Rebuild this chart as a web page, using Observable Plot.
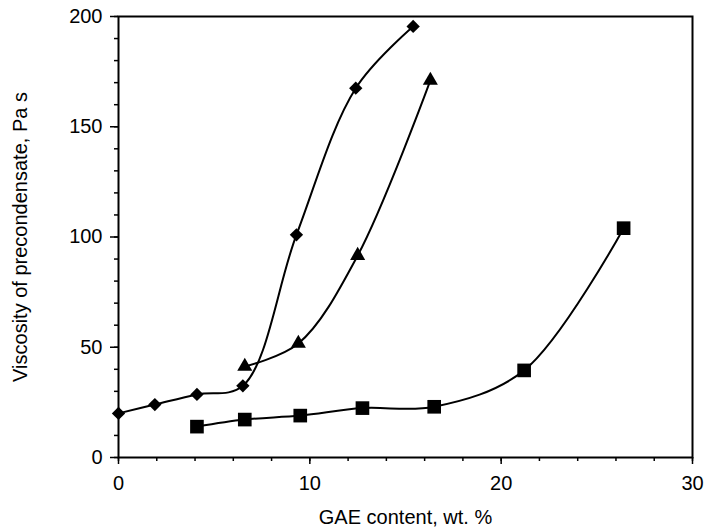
<!DOCTYPE html>
<html><head><meta charset="utf-8">
<script src="https://cdn.jsdelivr.net/npm/d3@7"></script>
<script src="https://cdn.jsdelivr.net/npm/@observablehq/plot@0.6"></script>
<style>body{margin:0;background:#fff;} svg{display:block;}</style>
</head><body><div id="chart"></div>
<script>
const diamondX = [0, 1.9, 4.1, 6.5, 9.3, 12.4, 15.4];
const diamondY = [20, 24, 28.6, 32.5, 101, 167.5, 195.5];
const triangleX = [6.6, 9.4, 12.5, 16.3];
const triangleY = [41.3, 51.7, 91.6, 171];
const squareX = [4.1, 6.6, 9.5, 12.75, 16.5, 21.2, 26.4];
const squareY = [14, 17.2, 19, 22.4, 23, 39.5, 104];
const xMajor = [0, 10, 20, 30];
const yMajor = [0, 50, 100, 150, 200];

const mk = (xs, ys) => xs.map((x, i) => ({x, y: ys[i]}));
const dia = mk(diamondX, diamondY), tri = mk(triangleX, triangleY), sq = mk(squareX, squareY);

const font = "'Liberation Sans', Arial, sans-serif";
const chart = Plot.plot({
  width: 707, height: 531,
  marginLeft: 118, marginRight: 15, marginTop: 16, marginBottom: 74,
  style: {fontFamily: font, fontSize: "20px", color: "black", background: "white"},
  x: {domain: [0, 30]},
  y: {domain: [0, 200]},
  marks: [
    Plot.frame({stroke: "black", strokeWidth: 2}),
    Plot.axisX({ticks: d3.range(0, 31, 2), tickFormat: () => "", tickSize: 4, strokeWidth: 1.5, label: null}),
    Plot.axisX({ticks: xMajor, tickSize: 7, strokeWidth: 1.5, tickPadding: 11, fontSize: 20, label: "GAE content, wt. %", labelAnchor: "center", labelArrow: "none", labelOffset: 66}),
    Plot.axisY({ticks: d3.range(0, 201, 10), tickFormat: () => "", tickSize: 4, strokeWidth: 1.5, label: null}),
    Plot.axisY({ticks: yMajor, tickSize: 8, strokeWidth: 1.5, tickPadding: 8, fontSize: 20, label: "Viscosity of precondensate, Pa s", labelAnchor: "center", labelArrow: "none", labelOffset: 106}),
    Plot.line(dia, {x: "x", y: "y", curve: "catmull-rom", stroke: "black", strokeWidth: 2}),
    Plot.line(tri, {x: "x", y: "y", curve: "catmull-rom", stroke: "black", strokeWidth: 2}),
    Plot.line(sq, {x: "x", y: "y", curve: "catmull-rom", stroke: "black", strokeWidth: 2}),
    Plot.dot(dia, {x: "x", y: "y", symbol: "diamond2", r: 6, fill: "black", stroke: "none"}),
    Plot.dot(tri, {x: "x", y: "y", symbol: "triangle", r: 5.6, fill: "black", stroke: "none"}),
    Plot.dot(sq, {x: "x", y: "y", symbol: "square", r: 7.7, fill: "black", stroke: "none"})
  ]
});
document.getElementById("chart").append(chart);
</script></body></html>
